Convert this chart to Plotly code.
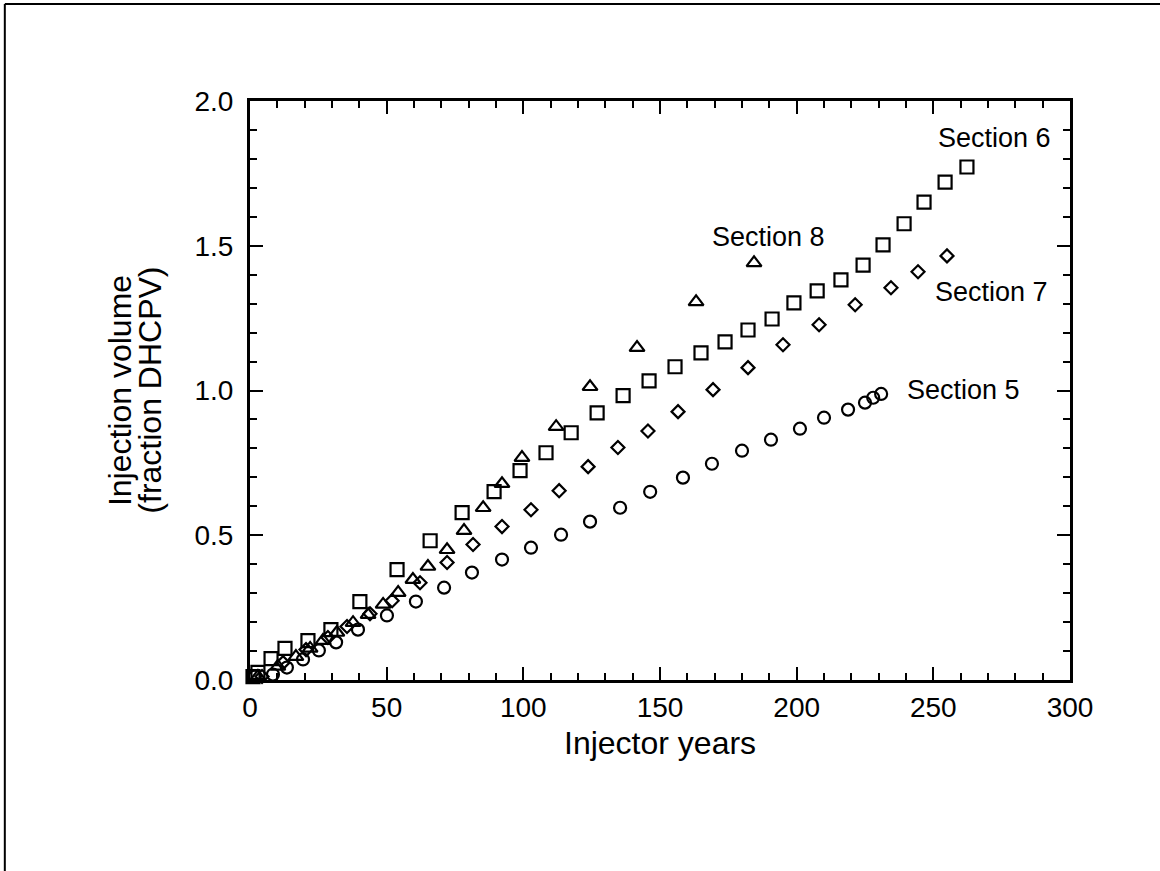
import plotly.graph_objects as go

# Cumulative injection volume (fraction DHCPV) against injector years, by section
sec5_years = [1.8, 8.4, 13.5, 19.4, 25.2, 31.5, 39.5, 50.1, 60.7, 71.0, 81.2, 92.2, 102.8,
              113.8, 124.4, 135.4, 146.4, 158.4, 169.0, 180.0, 190.6, 201.2, 210.0, 218.8,
              225.0, 228.0, 230.9]
sec5_volume = [0.012, 0.019, 0.043, 0.071, 0.102, 0.130, 0.174, 0.223, 0.271, 0.319, 0.371,
               0.416, 0.457, 0.502, 0.547, 0.595, 0.650, 0.699, 0.747, 0.792, 0.830, 0.868,
               0.906, 0.934, 0.958, 0.975, 0.988]

sec6_years = [1.1, 2.9, 7.7, 12.8, 21.2, 29.6, 40.2, 53.8, 65.9, 77.6, 89.3, 98.8, 108.3,
              117.5, 127.0, 136.5, 146.0, 155.5, 165.0, 173.8, 182.2, 191.0, 199.0, 207.5,
              216.2, 224.3, 231.6, 239.3, 246.6, 254.3, 262.3]
sec6_volume = [0.012, 0.026, 0.074, 0.109, 0.136, 0.174, 0.271, 0.381, 0.481, 0.578, 0.651,
               0.723, 0.785, 0.854, 0.923, 0.982, 1.033, 1.082, 1.130, 1.168, 1.209, 1.247,
               1.303, 1.344, 1.382, 1.433, 1.503, 1.576, 1.651, 1.720, 1.772]

sec7_years = [4.4, 12.1, 20.5, 28.5, 35.5, 43.9, 52.0, 62.2, 72.1, 81.6, 92.2, 102.8, 113.1,
              123.7, 134.6, 145.6, 156.6, 169.4, 182.2, 195.0, 208.2, 221.4, 234.5, 244.4, 255.0]
sec7_volume = [0.012, 0.060, 0.105, 0.147, 0.185, 0.229, 0.274, 0.336, 0.406, 0.468, 0.530,
               0.588, 0.654, 0.737, 0.803, 0.860, 0.927, 1.003, 1.079, 1.158, 1.227, 1.296,
               1.355, 1.410, 1.465]

sec8_years = [2.9, 10.2, 16.8, 22.0, 26.7, 31.8, 37.7, 43.2, 48.7, 54.2, 59.6, 65.1, 72.1,
              78.3, 85.3, 92.2, 99.5, 112.0, 124.4, 141.6, 163.2, 184.4]
sec8_volume = [0.012, 0.047, 0.081, 0.109, 0.136, 0.164, 0.198, 0.226, 0.261, 0.302, 0.347,
               0.392, 0.450, 0.516, 0.595, 0.678, 0.768, 0.875, 1.013, 1.148, 1.306, 1.441]

section_labels = ["Section 6", "Section 8", "Section 7", "Section 5"]
label_x = [251.0, 168.3, 249.9, 239.7]
label_y = [1.872, 1.531, 1.341, 1.003]

x_ticks = [0, 50, 100, 150, 200, 250, 300]
y_ticks = [0.0, 0.5, 1.0, 1.5, 2.0]

FONT = "Liberation Sans, Arial, Helvetica, sans-serif"

fig = go.Figure()

series = [
    (sec5_years, sec5_volume, "circle-open", 12),
    (sec6_years, sec6_volume, "square-open", 13),
    (sec7_years, sec7_volume, "diamond-open", 10),
    (sec8_years, sec8_volume, "triangle-up-open", 13),
]
for xs, ys, sym, sz in series:
    fig.add_trace(go.Scatter(
        x=xs, y=ys, mode="markers", showlegend=False,
        marker=dict(symbol=sym, size=sz, color="black", line=dict(color="black", width=2.2)),
        cliponaxis=False,
    ))

for txt, lx, ly in zip(section_labels, label_x, label_y):
    fig.add_annotation(x=lx, y=ly, xref="x", yref="y", text=txt, showarrow=False,
                       xanchor="left", yanchor="middle",
                       font=dict(family=FONT, size=27, color="black"))

# axis titles
fig.add_annotation(x=0.5, y=-0.108, xref="paper", yref="paper", text="Injector years",
                   showarrow=False, xanchor="center", yanchor="middle",
                   font=dict(family=FONT, size=32, color="black"))
fig.add_annotation(x=-0.159, y=0.5, xref="paper", yref="paper", text="Injection volume",
                   showarrow=False, xanchor="center", yanchor="middle", textangle=-90,
                   font=dict(family=FONT, size=32, color="black"))
fig.add_annotation(x=-0.123, y=0.5, xref="paper", yref="paper", text="(fraction DHCPV)",
                   showarrow=False, xanchor="center", yanchor="middle", textangle=-90,
                   font=dict(family=FONT, size=32, color="black"))

# page frame along the top and left edges
fig.add_shape(type="line", xref="paper", yref="paper", x0=-0.299, x1=1.12, y0=1.1675, y1=1.1675,
              line=dict(color="black", width=2))
fig.add_shape(type="line", xref="paper", yref="paper", x0=-0.299, x1=-0.299, y0=1.1675, y1=-0.35,
              line=dict(color="black", width=2))

axis_common = dict(
    showline=True, linecolor="black", linewidth=3, mirror="ticks",
    ticks="inside", ticklen=13, tickwidth=2, tickcolor="black",
    showgrid=False, zeroline=False,
    tickfont=dict(family=FONT, size=28, color="black"),
)

fig.update_xaxes(range=[0, 300], tickvals=x_ticks, ticktext=[str(v) for v in x_ticks],
                 ticklabelstandoff=0,
                 minor=dict(dtick=10, tick0=0, ticks="inside", ticklen=7, tickwidth=2,
                            tickcolor="black", showgrid=False),
                 **axis_common)
fig.update_yaxes(range=[0, 2], tickvals=y_ticks, ticktext=[f"{v:.1f}" for v in y_ticks],
                 ticklabelstandoff=8,
                 minor=dict(dtick=0.1, tick0=0, ticks="inside", ticklen=7, tickwidth=2,
                            tickcolor="black", showgrid=False),
                 **axis_common)

fig.update_layout(
    width=1160, height=871,
    margin=dict(l=250, r=90, t=101, b=191),
    paper_bgcolor="white", plot_bgcolor="white",
    font=dict(family=FONT, color="black"),
)

fig.write_html("out.html")
